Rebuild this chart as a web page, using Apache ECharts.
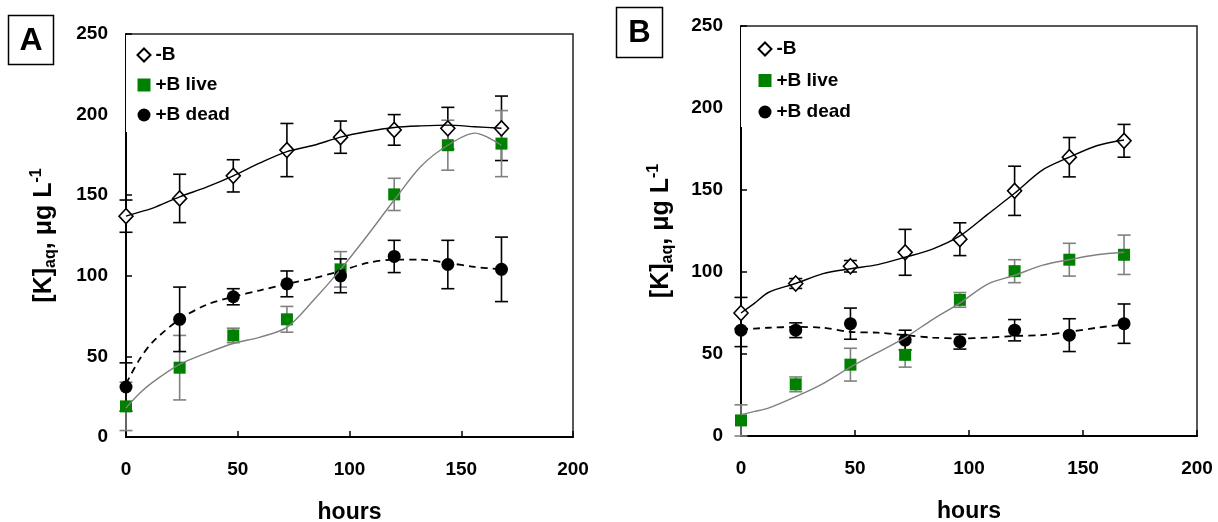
<!DOCTYPE html>
<html>
<head>
<meta charset="utf-8">
<script src="https://cdn.jsdelivr.net/npm/echarts@6/dist/echarts.min.js"></script>
<style>
  html, body { margin: 0; padding: 0; background: #fff; }
  #chart { width: 1218px; height: 522px; }
</style>
</head>
<body>
<div id="chart"></div>
<script>
// sampling times (hours)
var hours = [0, 24, 48, 72, 96, 120, 144, 168];
var fitHours = [0, 6, 12, 24, 36, 48, 60, 72, 84, 96, 108, 120, 132, 144, 156, 168];

// panel A
var aMinusB = [137, 148, 162, 178, 186, 190.5, 191.5, 191.5];
var aMinusBErr = [10, 15, 10, 16.5, 10, 9.5, 13, 20];
var aLive = [19, 43, 63, 73, 104, 150.5, 181, 182];
var aLiveErr = [15, 20, 4.5, 8, 11, 10, 15.5, 20.5];
var aDead = [31, 73, 87, 95, 100, 112, 107, 104];
var aDeadErr = [15, 20, 5, 8, 10.5, 10, 15, 20];
var aMinusBFit = [137, 139.5, 142, 149, 155, 162, 170, 177, 181, 186, 189.5, 192, 193, 193.5, 192.5, 191.5];
var aLiveFit = [18, 27, 34, 45, 52, 58, 62, 68, 85, 104, 125, 147, 168, 181, 188.5, 181];
var aDeadFit = [33, 48, 59, 73, 82, 87, 91, 95, 98.5, 103, 108, 110, 110, 108, 105.5, 104];

// panel B
var bMinusB = [75, 93, 103.5, 112, 120, 149.5, 170, 180];
var bMinusBErr = [9.5, 3, 3.5, 14, 10, 15, 12, 10];
var bLive = [9.5, 31.5, 43.5, 49.5, 83, 100.5, 107.5, 110.5];
var bLiveErr = [9.5, 4.5, 10, 7.5, 4.5, 7, 10, 12];
var bDead = [64.5, 64.5, 68.5, 58.5, 57.5, 64.5, 61.5, 68.5];
var bDeadErr = [10, 4.5, 9.5, 6, 4.5, 6.5, 10, 12];
var bMinusBFit = [75, 81, 87.5, 93, 99, 102, 104.5, 109, 114, 122, 135, 148, 162, 170, 177, 180.5];
var bLiveFit = [13, 15, 17, 24, 32, 42, 51, 60, 71, 81, 92.5, 98, 104, 107.5, 110.5, 112];
var bDeadFit = [65, 65.5, 66, 66.5, 66, 63.5, 63, 61.5, 60, 59.5, 60, 61, 61.5, 63.5, 66, 68];

var FONT = "Arial, 'Liberation Sans', sans-serif";
var GREEN = '#008000';
var GREY = '#808080';

function pairs(xs, ys) {
    return xs.map(function (x, i) { return [x, ys[i]]; });
}

function errorSeries(idx, ys, errs, color) {
    return {
        type: 'custom',
        name: 'err',
        xAxisIndex: idx,
        yAxisIndex: idx,
        z: 2,
        silent: true,
        encode: { x: 0, y: [1, 2] },
        data: hours.map(function (h, i) { return [h, ys[i] - errs[i], ys[i] + errs[i]]; }),
        renderItem: function (params, api) {
            var x = api.value(0);
            var lo = api.coord([x, api.value(1)]);
            var hi = api.coord([x, api.value(2)]);
            var w = 6.5;
            var st = { stroke: color, lineWidth: 1.6 };
            return {
                type: 'group',
                children: [
                    { type: 'line', shape: { x1: hi[0], y1: hi[1], x2: lo[0], y2: lo[1] }, style: st },
                    { type: 'line', shape: { x1: hi[0] - w, y1: hi[1], x2: hi[0] + w, y2: hi[1] }, style: st },
                    { type: 'line', shape: { x1: lo[0] - w, y1: lo[1], x2: lo[0] + w, y2: lo[1] }, style: st }
                ]
            };
        }
    };
}

function fitSeries(idx, ys, color, dashed) {
    return {
        type: 'line',
        name: 'fit',
        xAxisIndex: idx,
        yAxisIndex: idx,
        z: 4,
        smooth: 0.3,
        showSymbol: false,
        silent: true,
        lineStyle: { color: color, width: dashed ? 1.8 : 1.4, type: dashed ? [7, 5] : 'solid' },
        data: pairs(fitHours, ys)
    };
}

function pointSeries(idx, name, ys) {
    var s = {
        type: 'scatter',
        name: name,
        xAxisIndex: idx,
        yAxisIndex: idx,
        z: 3,
        data: pairs(hours, ys)
    };
    if (name === '-B') {
        s.symbol = 'diamond';
        s.symbolSize = [14, 15];
        s.itemStyle = { color: '#fff', borderColor: '#000', borderWidth: 1.6, opacity: 1 };
    } else if (name === '+B live') {
        s.symbol = 'rect';
        s.symbolSize = 12;
        s.itemStyle = { color: GREEN, opacity: 1 };
    } else {
        s.symbol = 'circle';
        s.symbolSize = 13;
        s.itemStyle = { color: '#000', opacity: 1 };
    }
    return s;
}

function xAxisFor(idx) {
    return {
        gridIndex: idx,
        type: 'value',
        min: 0,
        max: 200,
        interval: 50,
        name: 'hours',
        nameLocation: 'middle',
        nameGap: 64,
        nameTextStyle: { fontSize: 23, fontWeight: 'bold', color: '#000', fontFamily: FONT },
        axisLine: { onZero: false, lineStyle: { color: '#000', width: 2 } },
        axisTick: { inside: true, length: 6, lineStyle: { color: '#000', width: 1.5 } },
        axisLabel: { margin: 23, fontSize: 19, fontWeight: 'bold', color: '#000', fontFamily: FONT },
        splitLine: { show: false }
    };
}

function yAxisFor(idx, gap) {
    return {
        gridIndex: idx,
        type: 'value',
        min: 0,
        max: 250,
        interval: 50,
        name: '{m|[K]}{s|aq}{m|, μg L}{p|-1}',
        nameLocation: 'middle',
        nameRotate: 90,
        nameGap: gap,
        nameTextStyle: {
            color: '#000',
            rich: {
                m: { fontSize: 25, fontWeight: 'bold', fontFamily: FONT, color: '#000', lineHeight: 30 },
                s: { fontSize: 16, fontWeight: 'bold', fontFamily: FONT, color: '#000', lineHeight: 14, verticalAlign: 'bottom' },
                p: { fontSize: 16, fontWeight: 'bold', fontFamily: FONT, color: '#000', lineHeight: 14, verticalAlign: 'top' }
            }
        },
        axisLine: { onZero: false, lineStyle: { color: '#000', width: 2 } },
        axisTick: { inside: true, length: 6, lineStyle: { color: '#000', width: 1.5 } },
        axisLabel: { margin: 18, fontSize: 19, fontWeight: 'bold', color: '#000', fontFamily: FONT },
        splitLine: { show: false }
    };
}

function legendFor(left, top, padding, gap) {
    return {
        orient: 'vertical',
        left: left,
        top: top,
        padding: padding,
        itemGap: gap,
        itemWidth: 13,
        itemHeight: 13,
        itemTextGap: 5,
        backgroundColor: '#fff',
        selectedMode: false,
        textStyle: { fontSize: 19, fontWeight: 'bold', color: '#000', fontFamily: FONT, lineHeight: 20 },
        data: [
            { name: '-B', icon: 'diamond' },
            { name: '+B live', icon: 'rect' },
            { name: '+B dead', icon: 'circle' }
        ]
    };
}

var option = {
    backgroundColor: '#fff',
    animation: false,
    grid: [
        { left: 126, top: 34, width: 447, height: 403, show: true, borderColor: '#222', borderWidth: 1.5, backgroundColor: 'transparent', containLabel: false, outerBoundsMode: 'none' },
        { left: 741, top: 26, width: 456, height: 410, show: true, borderColor: '#222', borderWidth: 1.5, backgroundColor: 'transparent', containLabel: false, outerBoundsMode: 'none' }
    ],
    xAxis: [xAxisFor(0), xAxisFor(1)],
    yAxis: [yAxisFor(0, 67), yAxisFor(1, 65)],
    legend: [
        legendFor(126, 35, [10, 10, 7, 10.5], 10),
        legendFor(741, 27, [12, 10, 5, 16.5], 11.5)
    ],
    graphic: [
        { type: 'rect', shape: { x: 8.5, y: 15.5, width: 45, height: 49 }, style: { fill: '#fff', stroke: '#000', lineWidth: 1.5 } },
        { type: 'text', x: 31, y: 41, style: { text: 'A', font: 'bold 32px ' + FONT, fill: '#000', align: 'center', verticalAlign: 'middle' } },
        { type: 'rect', shape: { x: 616.5, y: 7.5, width: 46, height: 50 }, style: { fill: '#fff', stroke: '#000', lineWidth: 1.5 } },
        { type: 'text', x: 639.5, y: 33, style: { text: 'B', font: 'bold 31px ' + FONT, fill: '#000', align: 'center', verticalAlign: 'middle' } }
    ],
    series: [
        errorSeries(0, aMinusB, aMinusBErr, '#000'),
        errorSeries(0, aLive, aLiveErr, GREY),
        errorSeries(0, aDead, aDeadErr, '#000'),
        pointSeries(0, '-B', aMinusB),
        pointSeries(0, '+B live', aLive),
        pointSeries(0, '+B dead', aDead),
        fitSeries(0, aMinusBFit, '#000', false),
        fitSeries(0, aLiveFit, GREY, false),
        fitSeries(0, aDeadFit, '#000', true),

        errorSeries(1, bMinusB, bMinusBErr, '#000'),
        errorSeries(1, bLive, bLiveErr, GREY),
        errorSeries(1, bDead, bDeadErr, '#000'),
        pointSeries(1, '-B', bMinusB),
        pointSeries(1, '+B live', bLive),
        pointSeries(1, '+B dead', bDead),
        fitSeries(1, bMinusBFit, '#000', false),
        fitSeries(1, bLiveFit, GREY, false),
        fitSeries(1, bDeadFit, '#000', true)
    ]
};

var myChart = echarts.init(document.getElementById('chart'));
myChart.setOption(option);
</script>
</body>
</html>
